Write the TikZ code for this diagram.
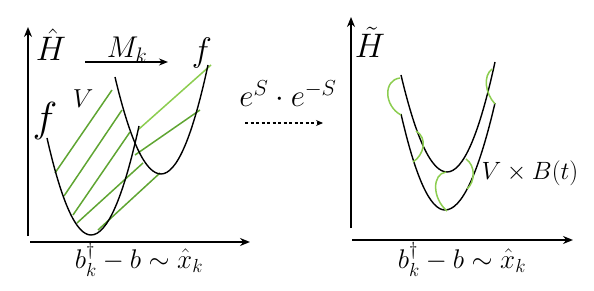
\documentclass[tikz,border=0pt]{standalone}
\usepackage{fix-cm}
\usepackage{amsmath,amssymb}
\usetikzlibrary{arrows.meta}
\definecolor{hdark}{RGB}{95,165,50}
\definecolor{hlight}{RGB}{140,205,80}
\tikzset{
  axis/.style={line width=1.8pt,-{Stealth[length=10pt,width=8pt]}},
  curve/.style={line width=1.4pt,black},
  hatch/.style={line width=1.5pt,hdark},
  hatchl/.style={line width=1.5pt,hlight},
  arcg/.style={line width=1.5pt,hlight},
  lbl/.style={inner sep=0pt,anchor=base},
}
\begin{document}
\begin{tikzpicture}[x=1pt,y=-1pt]
\useasboundingbox (0,0) rectangle (594,291);
% left axes
\coordinate (ly0) at (28,236); \coordinate (ly1) at (28,27);
\coordinate (lx0) at (30,242); \coordinate (lx1) at (250,242);
\draw[axis] (ly0) -- (ly1);
\draw[axis] (lx0) -- (lx1);
% right axes
\coordinate (ry0) at (351,228); \coordinate (ry1) at (351,17);
\coordinate (rx0) at (352,240); \coordinate (rx1) at (573,240);
\draw[axis] (ry0) -- (ry1);
\draw[axis] (rx0) -- (rx1);
% hatching (left)
\draw[hatch] (55,173) -- (112,90);
\draw[hatch] (64,196) -- (122,110);
\draw[hatch] (73,215) -- (130,132);
\draw[hatch] (77,223) -- (143,163);
\draw[hatch] (98,230) -- (160,173);
\draw[hatch] (135,155) -- (200,110);
\draw[hatchl] (139,129) -- (211,65);
% left parabolas
\draw[curve] (47,138) .. controls (61.7,202.7) and (76.3,235) .. (91,235)
   .. controls (107,235) and (123,198.7) .. (139,126);
\draw[curve] (115,77) .. controls (130.3,141.7) and (145.7,174) .. (161,174)
   .. controls (176.7,174) and (192.3,137.7) .. (208,65);
% right parabolas
\draw[curve] (401,75) .. controls (416.3,139.7) and (431.7,172) .. (447,172)
   .. controls (463,172) and (479,135.3) .. (495,62);
\draw[curve] (401,114) .. controls (415.7,178) and (430.3,210) .. (445,210)
   .. controls (461.7,210) and (478.3,174.3) .. (495,103);
% green arcs
\draw[arcg] (400,78) .. controls (383,80) and (384,106) .. (401,115);
\draw[arcg] (416,131) .. controls (428,138) and (424,155) .. (413,162);
\draw[arcg] (446,172) .. controls (432,174) and (432,198) .. (447,211);
\draw[arcg] (466,159) .. controls (476,166) and (475,182) .. (467,189);
\draw[arcg] (492,69) .. controls (483,76) and (485,93) .. (495,104);
% labels
\node[lbl,font=\fontsize{34}{38}\selectfont] (Hhat) at (51,61) {$\hat{H}$};
\node[lbl,font=\fontsize{34}{38}\selectfont] (Htil) at (370,58) {$\tilde{H}$};
\node[lbl,font=\fontsize{30}{34}\selectfont] (Mk) at (127,58) {$M_k$};
\coordinate (ma) at (85,62); \coordinate (mb) at (168,62);
\draw[line width=1.6pt,-{Stealth[length=9pt,width=7pt]}] (ma) -- (mb);
\node[lbl,font=\fontsize{42}{46}\selectfont] (f1) at (45,132) {$f$};
\node[lbl,font=\fontsize{34}{38}\selectfont] (f2) at (202,61.5) {$f$};
\node[lbl,font=\fontsize{26}{30}\selectfont] (V) at (83,108) {$V$};
\node[lbl,font=\fontsize{31}{35}\selectfont] (eS) at (288,106.5) {$e^{S}\cdot e^{-S}$};
\coordinate (da) at (245,123); \coordinate (db) at (323,123);
\draw[line width=1.2pt,dash pattern=on 3pt off 2.5pt,-{Stealth[length=7pt,width=6pt]}] (da) -- (db);
\node[lbl,font=\fontsize{27}{31}\selectfont] (xl) at (139,268) {$b_k^\dagger - b\sim\hat{x}_k$};
\node[lbl,font=\fontsize{27}{31}\selectfont] (xr) at (462,268) {$b_k^\dagger - b\sim\hat{x}_k$};
\node[lbl,font=\fontsize{25}{29}\selectfont] (VB) at (530,180) {$V\times B(t)$};
\end{tikzpicture}
\end{document}
